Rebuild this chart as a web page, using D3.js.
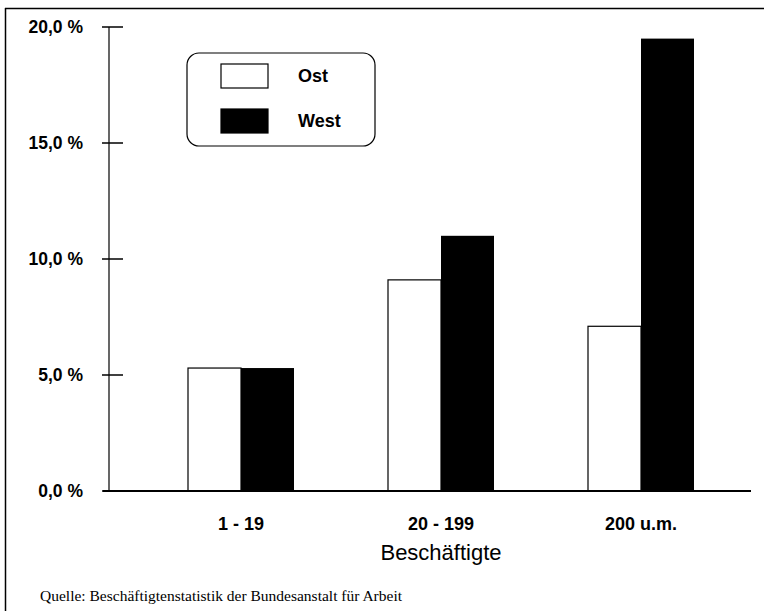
<!DOCTYPE html>
<html>
<head>
<meta charset="utf-8">
<script src="https://cdn.jsdelivr.net/npm/d3@7"></script>
<style>
  body { margin: 0; background: #fff; }
  svg { display: block; }
</style>
</head>
<body>
<svg id="chart"></svg>
<script>
const categories = ['1 - 19', '20 - 199', '200 u.m.']
const series = ['Ost', 'West']
const ost = [5.3, 9.1, 7.1]
const west = [5.3, 11.0, 19.5]
const yTicks = [0, 5, 10, 15, 20]

const width = 764, height = 611
const svg = d3.select('#chart').attr('width', width).attr('height', height)

// frame (only top and left edges show in the scan)
svg.append('line').attr('x1', 5).attr('x2', 764).attr('y1', 8.5).attr('y2', 8.5)
  .attr('stroke', '#000').attr('stroke-width', 1.5)
svg.append('line').attr('x1', 5.5).attr('x2', 5.5).attr('y1', 8).attr('y2', 611)
  .attr('stroke', '#000').attr('stroke-width', 1.5)

const y = d3.scaleLinear().domain([0, 20]).range([491, 27])
const x = d3.scaleBand().domain(categories).range([141, 741]).paddingInner(0.47).paddingOuter(0.235)
const xs = d3.scaleBand().domain(series).range([0, x.bandwidth()])

const fmt = v => d3.format('.1f')(v).replace('.', ',') + ' %'
const sans = 'Liberation Sans, Arial, sans-serif'

// y axis
const yAxis = svg.append('g').attr('transform', 'translate(109,0)')
yAxis.append('line').attr('y1', y(20)).attr('y2', y(0)).attr('stroke', '#000').attr('stroke-width', 1.2)
yAxis.selectAll('.tick').data(yTicks).enter().append('line')
  .attr('x1', -7).attr('x2', 14)
  .attr('y1', d => y(d)).attr('y2', d => y(d))
  .attr('stroke', '#000').attr('stroke-width', 1.5)
yAxis.selectAll('text').data(yTicks).enter().append('text')
  .attr('x', -26).attr('y', d => y(d)).attr('dy', '0.35em')
  .attr('text-anchor', 'end')
  .attr('font-family', sans)
  .attr('font-weight', 'bold').attr('font-size', 17.5)
  .text(fmt)

// bars
const groups = svg.selectAll('.grp').data(categories).enter().append('g')
  .attr('transform', d => `translate(${x(d)},0)`)
groups.append('rect')
  .attr('x', xs('Ost')).attr('width', xs.bandwidth())
  .attr('y', (d, i) => y(ost[i])).attr('height', (d, i) => y(0) - y(ost[i]))
  .attr('fill', '#fff').attr('stroke', '#000').attr('stroke-width', 1.2)
groups.append('rect')
  .attr('x', xs('West')).attr('width', xs.bandwidth())
  .attr('y', (d, i) => y(west[i])).attr('height', (d, i) => y(0) - y(west[i]))
  .attr('fill', '#000')

// x axis baseline
svg.append('line').attr('x1', 103).attr('x2', 751).attr('y1', y(0)).attr('y2', y(0))
  .attr('stroke', '#000').attr('stroke-width', 2)

svg.selectAll('.xlab').data(categories).enter().append('text')
  .attr('x', d => x(d) + x.bandwidth() / 2).attr('y', 530)
  .attr('text-anchor', 'middle')
  .attr('font-family', sans)
  .attr('font-weight', 'bold').attr('font-size', 18)
  .text(d => d)

svg.append('text').attr('x', x(categories[1]) + x.bandwidth() / 2).attr('y', 560)
  .attr('text-anchor', 'middle')
  .attr('font-family', sans)
  .attr('font-size', 22)
  .text('Beschäftigte')

// legend
const legend = svg.append('g')
legend.append('rect').attr('x', 187).attr('y', 53).attr('width', 188).attr('height', 93)
  .attr('rx', 12).attr('fill', '#fff').attr('stroke', '#000').attr('stroke-width', 1.2)
const li = legend.selectAll('.li').data(series).enter().append('g')
  .attr('transform', (d, i) => `translate(221,${64 + i * 45})`)
li.append('rect').attr('width', 47).attr('height', 24)
  .attr('fill', d => d === 'Ost' ? '#fff' : '#000').attr('stroke', '#000').attr('stroke-width', 1.2)
li.append('text').attr('x', 77).attr('y', 12).attr('dy', '0.35em')
  .attr('font-family', sans)
  .attr('font-weight', 'bold').attr('font-size', 18)
  .text(d => d)

// source
svg.append('text').attr('x', 40).attr('y', 601)
  .attr('font-family', 'Liberation Serif, Times New Roman, serif')
  .attr('font-size', 15.5)
  .text('Quelle: Beschäftigtenstatistik der Bundesanstalt für Arbeit')
</script>
</body>
</html>
